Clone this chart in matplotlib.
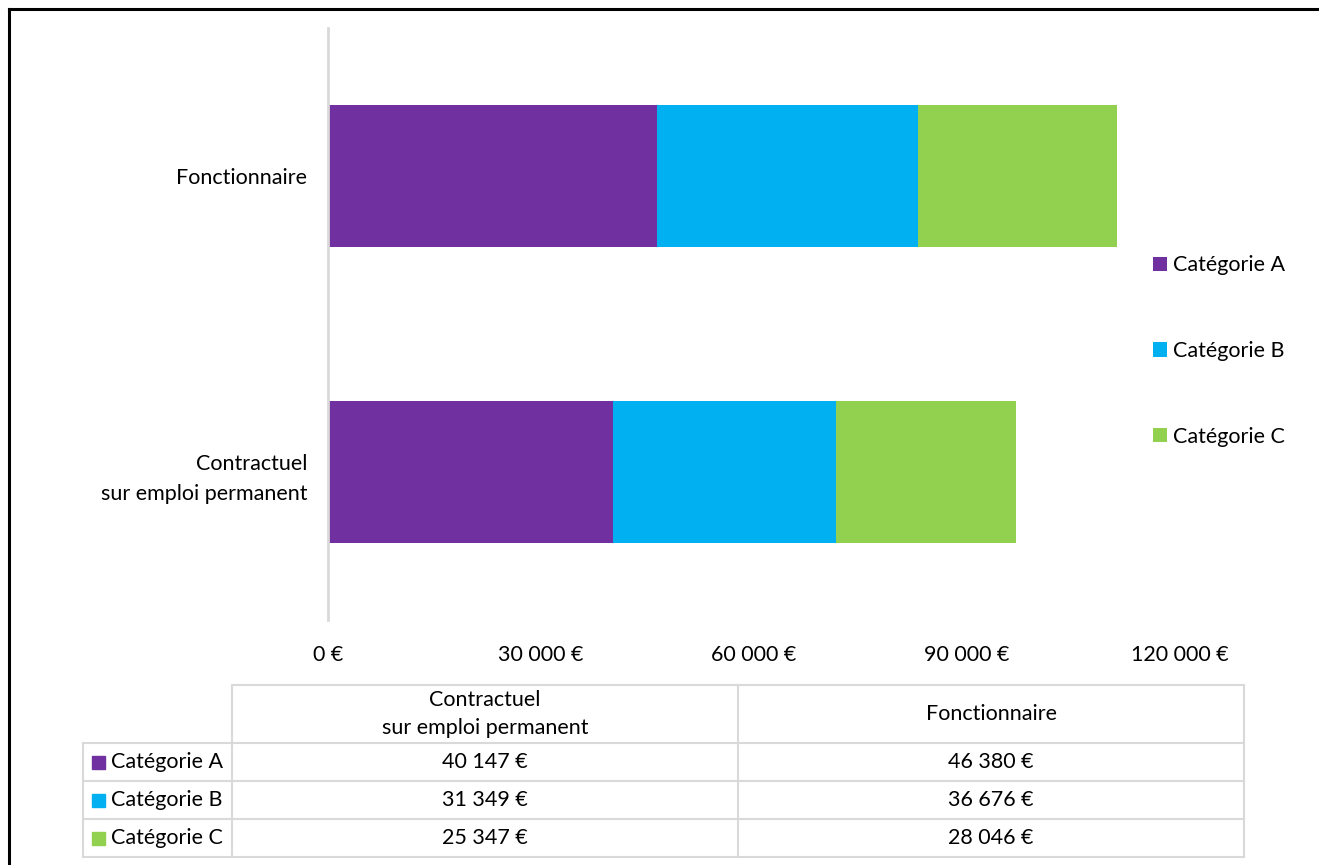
import matplotlib.pyplot as plt
from matplotlib.patches import Rectangle
from matplotlib.lines import Line2D

plt.rcParams["font.family"] = ["Lato", "DejaVu Sans"]

statuts = ["Contractuel\nsur emploi permanent", "Fonctionnaire"]
categories = ["Catégorie A", "Catégorie B", "Catégorie C"]
valeurs = {
    "Catégorie A": [40147, 46380],
    "Catégorie B": [31349, 36676],
    "Catégorie C": [25347, 28046],
}
couleurs = ["#7030A0", "#00B0F0", "#92D050"]
ticks = [0, 30000, 60000, 90000, 120000]

FS = 15.5
W, H = 1319, 865
fig = plt.figure(figsize=(W / 100, H / 100), dpi=100)


def fx(px):
    return px / W


def fy(py):
    return 1 - py / H


ax = fig.add_axes([fx(328), fy(620), fx(1180) - fx(328), fy(28) - fy(620)])

left = [0, 0]
for cat, col in zip(categories, couleurs):
    ax.barh(range(len(statuts)), valeurs[cat], left=left, height=0.477,
            color=col, label=cat)
    left = [l + v for l, v in zip(left, valeurs[cat])]

ax.set_xlim(0, 120000)
ax.set_ylim(-0.5, 1.5)
ax.set_yticks(range(len(statuts)))
ax.set_yticklabels(statuts, fontsize=FS, linespacing=1.6)
ax.set_xticks(ticks)
ax.set_xticklabels([f"{t:,}".replace(",", " ") + " €" for t in ticks], fontsize=FS)
ax.tick_params(length=0)
ax.tick_params(axis="y", pad=15)
ax.tick_params(axis="x", pad=18)
for s in ["top", "right", "bottom"]:
    ax.spines[s].set_visible(False)
ax.spines["left"].set_color("#d9d9d9")
ax.spines["left"].set_linewidth(2)

ax.legend(loc="center left", bbox_to_anchor=(fx(1142), fy(351)),
          bbox_transform=fig.transFigure, frameon=False, fontsize=FS,
          handlelength=0.65, handleheight=0.65, handletextpad=0.3,
          labelspacing=3.05, borderpad=0)

# outer frame (left + top)
fig.add_artist(Line2D([fx(9), fx(9)], [fy(9), 0], color="black", lw=2.2))
fig.add_artist(Line2D([fx(9), 1], [fy(9), fy(9)], color="black", lw=2.2))

# data table
grid = "#d9d9d9"
xs = [83, 232, 738, 1244]
ys = [685, 743, 781, 819, 857]


def hline(y, x0, x1):
    fig.add_artist(Line2D([fx(x0), fx(x1)], [fy(y), fy(y)], color=grid, lw=1.5))


def vline(x, y0, y1):
    fig.add_artist(Line2D([fx(x), fx(x)], [fy(y0), fy(y1)], color=grid, lw=1.5))


hline(ys[0], xs[1], xs[3])
for y in ys[1:]:
    hline(y, xs[0], xs[3])
vline(xs[0], ys[1], ys[-1])
for x in xs[1:]:
    vline(x, ys[0], ys[-1])

for j, st in enumerate(statuts):
    cx = (xs[j + 1] + xs[j + 2]) / 2
    fig.text(fx(cx), fy((ys[0] + ys[1]) / 2), st, ha="center", va="center",
             fontsize=FS, linespacing=1.55)

for i, (cat, col) in enumerate(zip(categories, couleurs)):
    cy = (ys[i + 1] + ys[i + 2]) / 2
    fig.add_artist(Rectangle((fx(92), fy(cy + 6.5)), fx(13), fy(0) - fy(13),
                             color=col, transform=fig.transFigure))
    fig.text(fx(111), fy(cy), cat, ha="left", va="center", fontsize=FS)
    for j in range(len(statuts)):
        cx = (xs[j + 1] + xs[j + 2]) / 2
        v = f"{valeurs[cat][j]:,}".replace(",", " ") + " €"
        fig.text(fx(cx), fy(cy), v, ha="center", va="center", fontsize=FS)

fig.savefig("out.png", dpi=100)
